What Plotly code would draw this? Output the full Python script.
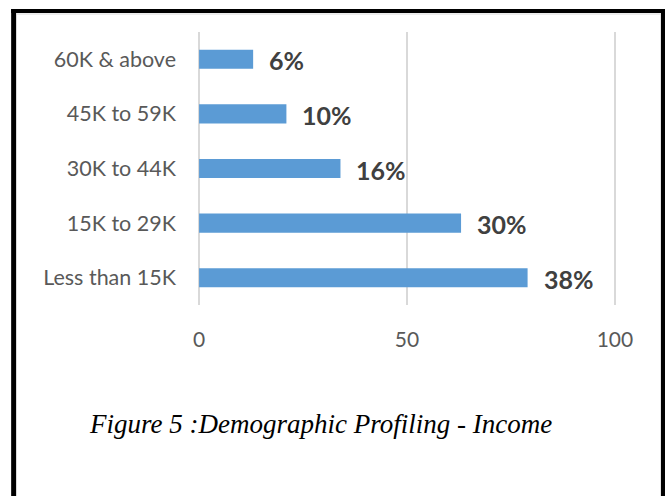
import plotly.graph_objects as go

# Income brackets (bottom to top) and respondent counts
categories = ["Less than 15K", "15K to 29K", "30K to 44K", "45K to 59K", "60K & above"]
counts = [79, 63, 34, 21, 13]
x_ticks = [0, 50, 100]
caption = "Figure 5 :Demographic Profiling - Income"

total = sum(counts)
pct_labels = [f"{round(c / total * 100)}%" for c in counts]

W, H = 665, 496
PAD = 0.5                      # small axis padding so edge gridlines are drawn
X0, X1 = 199, 615              # pixel positions of 0 and 100
UNIT = (X1 - X0) / 100
L, R = X0 - PAD * UNIT, X1 + PAD * UNIT
T, B = 32, 305                 # plot area top / bottom in pixels


def px(x):
    return (x - L) / (R - L)


def py(y):
    return (B - y) / (B - T)


fig = go.Figure(
    go.Bar(
        x=counts,
        y=categories,
        orientation="h",
        marker=dict(color="#5b9bd5", line=dict(width=0)),
        hoverinfo="skip",
    )
)

# Percentage labels beside each bar
for c, cat, lab in zip(counts, categories, pct_labels):
    fig.add_annotation(
        x=c, y=cat, xref="x", yref="y", text=f"<b>{lab}</b>",
        showarrow=False, xanchor="left", yanchor="middle", xshift=14, yshift=-1,
        font=dict(family="Lato", size=25, color="#404040"),
    )

# Caption below the chart
fig.add_annotation(
    x=px(320.5), y=py(424), xref="paper", yref="paper", text=f"<i>{caption}</i>",
    showarrow=False, xanchor="center", yanchor="middle",
    font=dict(family="Liberation Serif", size=27, color="#000000"),
)

# Black frame (left, top, right edges)
frame = [(11, 9, 16, H + 5), (11, 9, W + 5, 13), (661, 9, W + 5, H + 5)]
for x0, y0, x1, y1 in frame:
    fig.add_shape(type="rect", xref="paper", yref="paper",
                  x0=px(x0), x1=px(x1), y0=py(y0), y1=py(y1),
                  fillcolor="#000000", line=dict(width=0), layer="above")
# thin grey chart-area border inside the frame
fig.add_shape(type="line", xref="paper", yref="paper",
              x0=px(16), x1=px(661), y0=py(14), y1=py(14),
              line=dict(color="#d9d9d9", width=1))

fig.update_layout(
    width=W, height=H,
    margin=dict(l=L, r=W - R, t=T, b=H - B, pad=0),
    paper_bgcolor="white", plot_bgcolor="white",
    bargap=0.65,
    showlegend=False,
    xaxis=dict(
        range=[-PAD, 100 + PAD], tickvals=x_ticks, showgrid=True,
        gridcolor="#d9d9d9", gridwidth=1.5, zeroline=False, showline=False,
        ticks="", ticklabelstandoff=20,
        tickfont=dict(family="Lato", size=21, color="#595959"),
        fixedrange=True,
    ),
    yaxis=dict(
        categoryorder="array", categoryarray=categories,
        showgrid=False, zeroline=False, showline=False, ticks="",
        ticklabelstandoff=20,
        tickfont=dict(family="Lato", size=21.5, color="#595959"),
        fixedrange=True,
    ),
)

fig.write_html("out.html")
